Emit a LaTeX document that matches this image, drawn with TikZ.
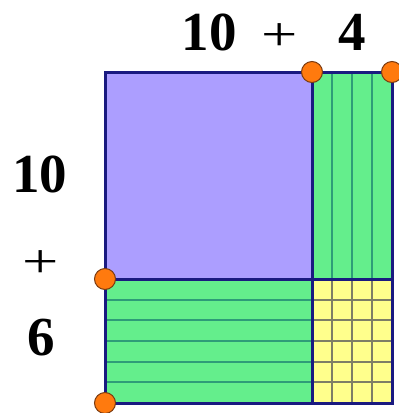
\documentclass[tikz,border=0pt]{standalone}
\usepackage{fontspec}
\setmainfont{Liberation Serif}
\definecolor{lav}{HTML}{AC9EFF}
\definecolor{grn}{HTML}{64EE8C}
\definecolor{yel}{HTML}{FFFF8C}
\definecolor{navy}{HTML}{1A1A80}
\definecolor{teal}{HTML}{2E9C78}
\definecolor{olive}{HTML}{7E7E66}
\definecolor{org}{HTML}{FF7A0E}
\definecolor{brn}{HTML}{7A3A10}
\begin{document}
\begin{tikzpicture}[x=1pt,y=-1pt,
  border/.style={draw=navy,line width=3pt},
  inner/.style={draw=teal,line width=1.6pt},
  grid/.style={draw=olive,line width=1.4pt},
  dot/.style={circle,fill=org,draw=brn,line width=1pt,minimum size=21pt,inner sep=0pt},
  num/.style={font=\fontsize{55}{55}\selectfont\bfseries,inner sep=0pt},
  pl/.style={font=\fontsize{56}{56}\selectfont,inner sep=0pt,xscale=1.15,yscale=0.85}]
\useasboundingbox (0,0) rectangle (399,413);
% fills
\fill[lav] (105,72) rectangle (312,279);
\fill[grn] (312,72) rectangle (392,279);
\fill[grn] (105,279) rectangle (312,403);
\fill[yel] (312,279) rectangle (392,403);
% inner lines
\foreach \x in {332,352,372} {
  \draw[inner] (\x,72) -- (\x,279);
  \draw[grid] (\x,279) -- (\x,403);
}
\foreach \y in {300,320,341,362,382} {
  \draw[inner] (105,\y) -- (312,\y);
  \draw[grid] (312,\y) -- (392,\y);
}
% borders
\draw[border] (105,72) rectangle (392,403);
\draw[border] (312,72) -- (312,403);
\draw[border] (105,279) -- (392,279);
% dots
\node[dot] (d1) at (312,72) {};
\node[dot] (d2) at (392,72) {};
\node[dot] (d3) at (105,279) {};
\node[dot] (d4) at (105,403) {};
% labels
\node[num] (t10) at (209,32) {10};
\node[pl] (tp) at (280,37) {+};
\node[num] (t4) at (352,32) {4};
\node[num] (l10) at (40,174) {10};
\node[pl] (lp) at (41,264) {+};
\node[num] (l6) at (41,338) {6};
\end{tikzpicture}
\end{document}
